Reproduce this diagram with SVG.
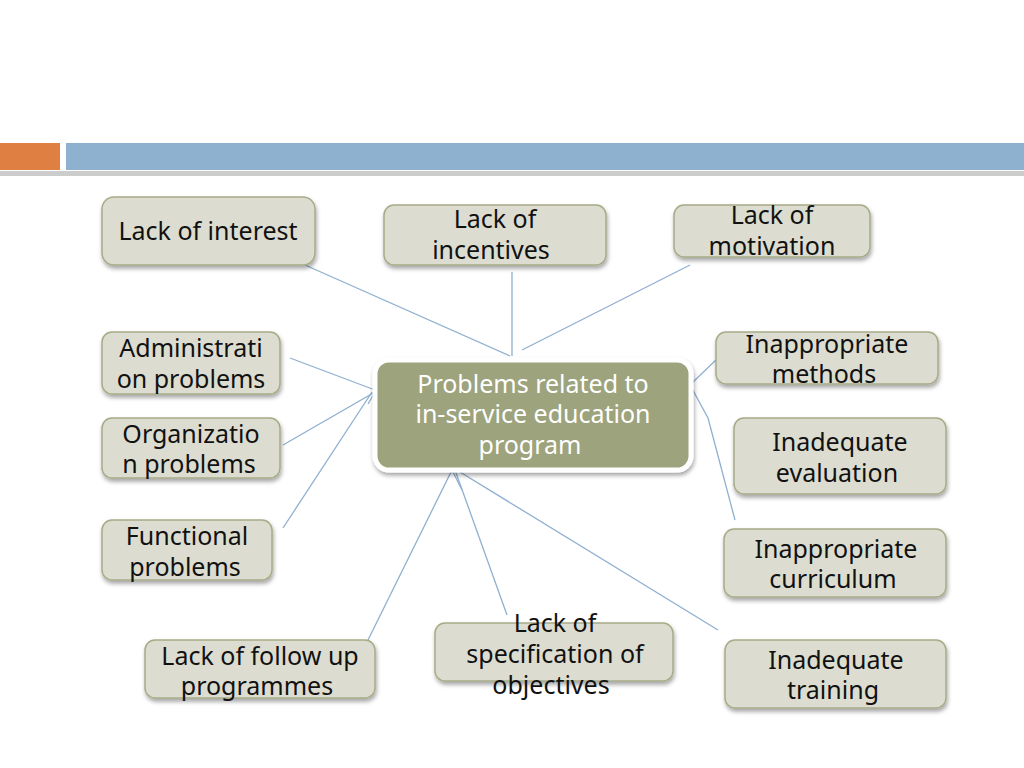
<svg xmlns="http://www.w3.org/2000/svg" width="1024" height="768" viewBox="0 0 1024 768">
<defs>
<filter id="sh" x="-10%" y="-10%" width="130%" height="140%"><feDropShadow dx="1" dy="3" stdDeviation="2" flood-color="#000" flood-opacity="0.35"/></filter>
</defs>
<style>
.n{fill:#dcddd0;stroke:#a7ab86;stroke-width:1.5;filter:url(#sh)}
.t{font-family:"Noto Sans","Open Sans",sans-serif;font-size:25px;fill:#111;text-anchor:middle}
.c line,.c polyline{stroke:#8fb0d0;stroke-width:1.3;fill:none}
</style>
<rect width="1024" height="768" fill="#fff"/>
<rect x="0" y="143" width="60" height="27" fill="#e07f42"/>
<rect x="66" y="143" width="958" height="27" fill="#8eb1cf"/>
<rect x="0" y="171" width="1024" height="5" fill="#999" opacity="0.5"/>
<g class="c">
<line x1="305" y1="265" x2="510" y2="356"/>
<line x1="512" y1="272" x2="512" y2="356"/>
<line x1="690" y1="265" x2="522" y2="350"/>
<line x1="290" y1="358" x2="375" y2="390"/>
<polyline points="283,445 375,392 368,404"/>
<line x1="283" y1="528" x2="372" y2="392"/>
<line x1="718" y1="358" x2="692" y2="383"/>
<polyline points="683,372 708,418 735,520"/>
<polyline points="368,640 452,470 462,490"/>
<line x1="507" y1="615" x2="455" y2="470"/>
<line x1="718" y1="630" x2="460" y2="472"/>
</g>
<g id="center"><rect x="375" y="360" width="316" height="110" rx="14" fill="#9da37b" stroke="#fff" stroke-width="5" filter="url(#sh)"/>
<text class="t" style="fill:#fff" x="533" y="393">Problems related to</text><text class="t" style="fill:#fff" x="533" y="423">in-service education</text><text class="t" style="fill:#fff" x="530" y="454">program</text></g>
<g id="n1"><rect class="n" x="102" y="197" width="213" height="68" rx="12"/><text class="t" x="208" y="240">Lack of interest</text></g>
<g id="n2"><rect class="n" x="384" y="205" width="222" height="60" rx="10"/><text class="t" x="495" y="228">Lack of</text><text class="t" x="491" y="259">incentives</text></g>
<g id="n3"><rect class="n" x="674" y="205" width="196" height="52" rx="10"/><text class="t" x="772" y="224">Lack of</text><text class="t" x="772" y="255">motivation</text></g>
<g id="n4"><rect class="n" x="102" y="332" width="178" height="62" rx="10"/><text class="t" x="191" y="357">Administrati</text><text class="t" x="191" y="388">on problems</text></g>
<g id="n5"><rect class="n" x="102" y="418" width="178" height="60" rx="10"/><text class="t" x="191" y="443">Organizatio</text><text class="t" x="189" y="473">n problems</text></g>
<g id="n6"><rect class="n" x="102" y="520" width="170" height="60" rx="10"/><text class="t" x="187" y="545">Functional</text><text class="t" x="185" y="576">problems</text></g>
<g id="n7"><rect class="n" x="716" y="332" width="222" height="52" rx="10"/><text class="t" x="827" y="353">Inappropriate</text><text class="t" x="824" y="383">methods</text></g>
<g id="n8"><rect class="n" x="734" y="418" width="212" height="76" rx="10"/><text class="t" x="840" y="451">Inadequate</text><text class="t" x="837" y="482">evaluation</text></g>
<g id="n9"><rect class="n" x="724" y="529" width="222" height="68" rx="10"/><text class="t" x="836" y="558">Inappropriate</text><text class="t" x="833" y="588">curriculum</text></g>
<g id="n10"><rect class="n" x="145" y="640" width="230" height="58" rx="10"/><text class="t" x="260" y="665">Lack of follow up</text><text class="t" x="257" y="695">programmes</text></g>
<g id="n11"><rect class="n" x="435" y="623" width="238" height="58" rx="10"/><text class="t" x="555" y="632">Lack of</text><text class="t" x="555" y="663">specification of</text><text class="t" x="551" y="694">objectives</text></g>
<g id="n12"><rect class="n" x="725" y="640" width="221" height="68" rx="10"/><text class="t" x="836" y="669">Inadequate</text><text class="t" x="833" y="699">training</text></g>
</svg>
